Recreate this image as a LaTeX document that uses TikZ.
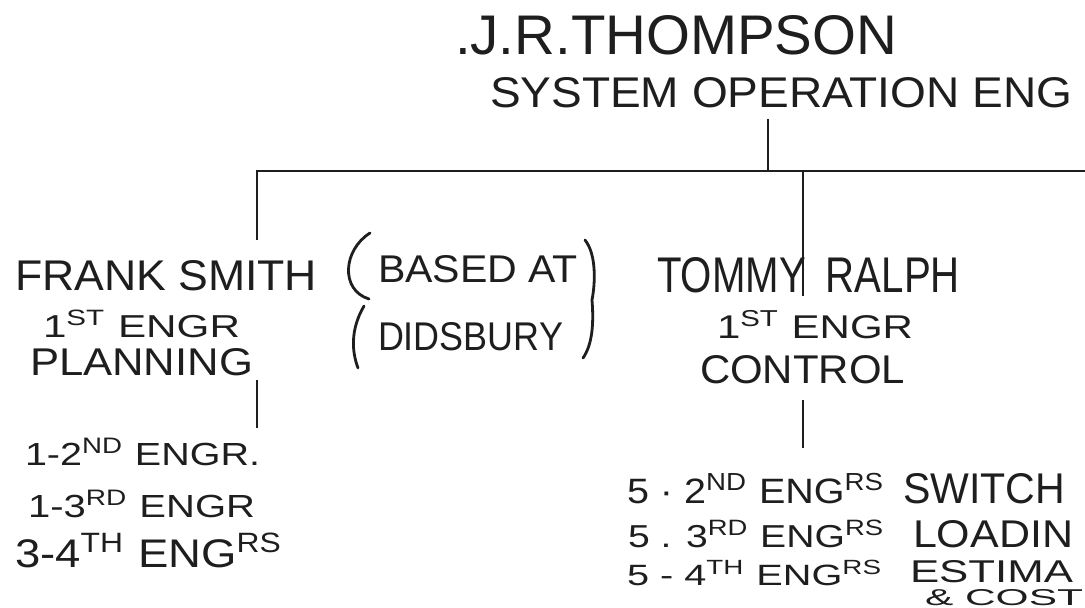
\documentclass[tikz,border=0pt]{standalone}
\usepackage{fontspec}
\setmainfont{Liberation Sans}
\usepackage{graphicx}
\newcommand{\hw}[3]{\resizebox{#1pt}{#2pt}{#3}}
\newcommand{\su}[1]{\textsuperscript{#1}}
\definecolor{ink}{HTML}{1E1E1E}
\begin{document}
\begin{tikzpicture}[x=1pt,y=-1pt,
  hand/.style={inner sep=0pt,outer sep=0pt,anchor=base west,text=ink},
  link/.style={draw=ink,line width=2.8pt},
  brace/.style={draw=ink,line width=2.8pt,line cap=round,line join=round}]
\useasboundingbox[fill=white] (0,0) rectangle (1085,608);

% top
\node[hand] (jr1) at (455,54) {\hw{442}{39}{.J.R.THOMPSON}};
\node[hand] (jr2) at (490,107) {\hw{582}{30}{SYSTEM OPERATION ENG}};

% left branch
\node[hand] (frank1) at (15,290) {\hw{302}{30}{FRANK SMITH}};
\node[hand] (frank2) at (43,337) {\hw{197}{27}{1\su{ST} ENGR}};
\node[hand] (frank3) at (30,375) {\hw{223}{27}{PLANNING}};
\node[hand] (based1) at (378,282) {\hw{200}{27}{BASED AT}};
\node[hand] (based2) at (378,350) {\hw{185}{28}{DIDSBURY}};
\node[hand] (l1) at (25,465) {\hw{235}{27}{1-2\su{ND} ENGR.}};
\node[hand] (l2) at (28,517) {\hw{227}{27}{1-3\su{RD} ENGR}};
\node[hand] (l3) at (15,567) {\hw{268}{34}{3-4\su{TH} ENG\su{RS}}};

% middle branch
\node[hand] (tom1) at (657,292) {\hw{303}{35}{TOMMY\hspace{0.5em}RALPH}};
\node[hand] (tom2) at (717,338) {\hw{196}{28}{1\su{ST} ENGR}};
\node[hand] (tom3) at (700,383) {\hw{205}{28}{CONTROL}};
\node[hand] (r1a) at (627,503) {\hw{258}{30}{5 · 2\su{ND} ENG\su{RS}}};
\node[hand] (r1b) at (903,503) {\hw{162}{30}{SWITCH}};
\node[hand] (r2a) at (628,547) {\hw{257}{27}{5 . 3\su{RD} ENG\su{RS}}};
\node[hand] (r2b) at (913,547) {\hw{160}{27}{LOADIN}};
\node[hand] (r3a) at (627,585) {\hw{256}{25}{5 - 4\su{TH} ENG\su{RS}}};
\node[hand] (r3b) at (910,582) {\hw{163}{22}{ESTIMA}};
\node[hand] (r4) at (925,605) {\hw{158}{16}{\& COST}};

% connectors
\coordinate (tj) at (768,171);
\coordinate (fj) at (257,171);
\coordinate (tm) at (803,171);
\coordinate (barR) at (1085,171);
\draw[link] (jr2.south -| tj) ++(0,12) -- (tj);
\draw[link] (barR) -- (fj) -- ([yshift=20pt]fj |- frank1.north);
\draw[link] ([yshift=-5pt]fj |- frank3.south) -- ([yshift=10pt]fj |- l1.north);
\draw[link] (tm) -- ([yshift=-4pt]tm |- tom1.base);
\draw[link] ([yshift=-17pt]tm |- tom3.south) -- ([yshift=25pt]tm |- r1a.north);

% brackets round the note
\draw[brace] (370,233) .. controls (343,250) and (340,290) .. (369,299)
  (364,306) .. controls (350,330) and (352,352) .. (358,368);
\draw[brace] (585,240) .. controls (597,255) and (595,285) .. (592,300)
  .. controls (594,325) and (592,345) .. (583,358);
\end{tikzpicture}
\end{document}
